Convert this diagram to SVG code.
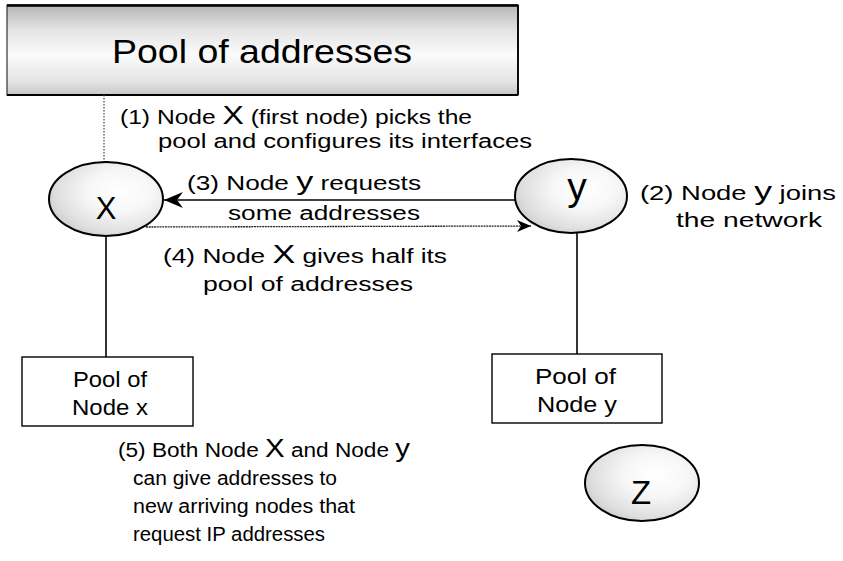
<svg xmlns="http://www.w3.org/2000/svg" width="843" height="561" viewBox="0 0 843 561">
  <defs>
    <linearGradient id="poolFill" x1="0" y1="0" x2="0" y2="1">
      <stop offset="0" stop-color="#b5b5b5"/>
      <stop offset="0.28" stop-color="#e4e4e4"/>
      <stop offset="0.55" stop-color="#fbfbfb"/>
      <stop offset="0.85" stop-color="#e4e4e4"/>
      <stop offset="1" stop-color="#c6c6c6"/>
    </linearGradient>
    <radialGradient id="nodeFill" cx="0.62" cy="0.4" r="0.7">
      <stop offset="0" stop-color="#ffffff"/>
      <stop offset="0.4" stop-color="#f7f7f7"/>
      <stop offset="0.8" stop-color="#dedede"/>
      <stop offset="1" stop-color="#c8c8c8"/>
    </radialGradient>
    <marker id="barb" viewBox="-20 -9 22 18" refX="0" refY="0" markerWidth="22" markerHeight="18" markerUnits="userSpaceOnUse" orient="auto">
      <path d="M0,0 L-19,-8 L-13,0 L-19,8 Z" fill="#000"/>
    </marker>
    <marker id="barbSmall" viewBox="-16 -7 18 14" refX="0" refY="0" markerWidth="18" markerHeight="14" markerUnits="userSpaceOnUse" orient="auto">
      <path d="M0,0 L-14,-6 L-10,0 L-14,6 Z" fill="#000"/>
    </marker>
  </defs>
  <style>
    text { font-family: "Liberation Sans", Arial, sans-serif; fill: #000; }
    .note { font-size: 20px; }
    .grey { fill: #666; }
    .big { font-size: 26px; }
    .node { fill: url(#nodeFill); stroke: #000; stroke-width: 2; }
    .box { fill: #fff; stroke: #000; stroke-width: 1.4; }
    .label { font-size: 22px; }
    .link { stroke: #000; stroke-width: 1.6; fill: none; }
  </style>

  <rect width="843" height="561" fill="#fff"/>

  <!-- shared address pool -->
  <g id="pool">
    <rect x="7" y="5" width="511" height="90" fill="url(#poolFill)" stroke="#333" stroke-width="1.2"/>
    <line x1="7" y1="5.5" x2="518" y2="5.5" stroke="#000" stroke-width="2.5"/>
    <line x1="7" y1="95" x2="518" y2="95" stroke="#000" stroke-width="2"/>
    <line x1="518" y1="5" x2="518" y2="95" stroke="#000" stroke-width="1.8"/>
    <text x="112" y="63" font-size="33" textLength="300" lengthAdjust="spacingAndGlyphs">Pool of addresses</text>
  </g>

  <!-- connectors -->
  <g id="connectors">
    <line x1="104" y1="95" x2="104" y2="162" stroke="#444" stroke-width="1.2" stroke-dasharray="1.5 1.5"/>
    <line class="link" x1="515" y1="200" x2="164" y2="200" stroke-width="1.8" marker-end="url(#barb)"/>
    <line x1="146" y1="227" x2="531" y2="226" stroke="#222" stroke-width="1.3" stroke-dasharray="2 0.7" marker-end="url(#barbSmall)"/>
    <line class="link" x1="106" y1="237" x2="106" y2="357"/>
    <line class="link" x1="577" y1="233" x2="577" y2="354"/>
  </g>

  <!-- node x -->
  <g id="node-x">
    <ellipse class="node" cx="106" cy="199" rx="57" ry="37"/>
    <text x="106" y="219" font-size="31" text-anchor="middle">X</text>
  </g>

  <!-- node y -->
  <g id="node-y">
    <ellipse class="node" cx="571" cy="196" rx="56" ry="37"/>
    <text x="577" y="200" font-size="39" text-anchor="middle">y</text>
  </g>

  <!-- node z -->
  <g id="node-z">
    <ellipse class="node" cx="642" cy="483" rx="57" ry="38"/>
    <text x="641" y="504" font-size="33" text-anchor="middle">Z</text>
  </g>

  <!-- pool held by node x -->
  <g id="pool-x">
    <rect class="box" x="22" y="357" width="171" height="69"/>
    <text class="label" x="73" y="387" textLength="74" lengthAdjust="spacingAndGlyphs">Pool of</text>
    <text class="label" x="72" y="415" textLength="76" lengthAdjust="spacingAndGlyphs">Node x</text>
  </g>

  <!-- pool held by node y -->
  <g id="pool-y">
    <rect class="box" x="492" y="354" width="170" height="69"/>
    <text class="label" x="535" y="384" textLength="81" lengthAdjust="spacingAndGlyphs">Pool of</text>
    <text class="label" x="537" y="412" textLength="80" lengthAdjust="spacingAndGlyphs">Node y</text>
  </g>

  <!-- step annotations -->
  <g id="step-1" class="note grey">
    <text x="120" y="124" textLength="352" lengthAdjust="spacingAndGlyphs">(1) Node <tspan class="big" fill="#000">X</tspan> (first node) picks the</text>
    <text x="158" y="148" textLength="374" lengthAdjust="spacingAndGlyphs">pool and configures its interfaces</text>
  </g>
  <g id="step-2" class="note">
    <text x="640" y="200" textLength="196" lengthAdjust="spacingAndGlyphs">(2) Node <tspan class="big">y</tspan> joins</text>
    <text x="676" y="227" textLength="146" lengthAdjust="spacingAndGlyphs">the network</text>
  </g>
  <g id="step-3" class="note">
    <text x="187" y="190" textLength="234" lengthAdjust="spacingAndGlyphs">(3) Node <tspan class="big">y</tspan> requests</text>
    <text x="228" y="220" textLength="192" lengthAdjust="spacingAndGlyphs">some addresses</text>
  </g>
  <g id="step-4" class="note grey">
    <text x="163" y="263" textLength="284" lengthAdjust="spacingAndGlyphs">(4) Node <tspan class="big" fill="#000">X</tspan> gives half its</text>
    <text x="203" y="291" textLength="210" lengthAdjust="spacingAndGlyphs">pool of addresses</text>
  </g>
  <g id="step-5" class="note">
    <text x="118" y="457" textLength="292" lengthAdjust="spacingAndGlyphs">(5) Both Node <tspan class="big">X</tspan> and Node <tspan class="big">y</tspan></text>
    <text x="133" y="485" textLength="204" lengthAdjust="spacingAndGlyphs">can give addresses to</text>
    <text x="133" y="513" textLength="222" lengthAdjust="spacingAndGlyphs">new arriving nodes that</text>
    <text x="133" y="541" textLength="192" lengthAdjust="spacingAndGlyphs">request IP addresses</text>
  </g>
</svg>
